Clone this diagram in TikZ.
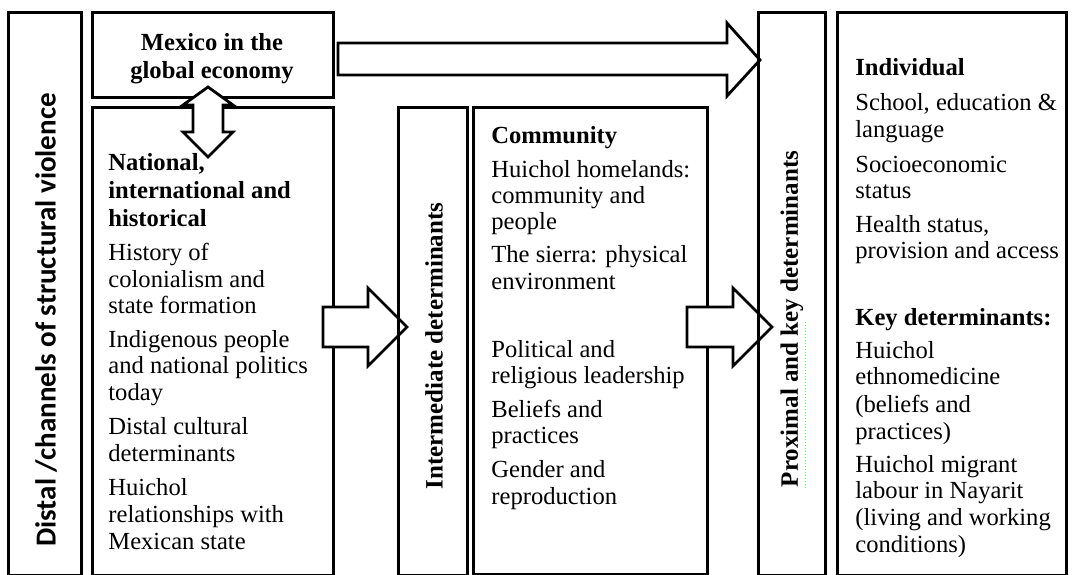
\documentclass[tikz,border=0pt]{standalone}
\usepackage{fontspec}
\setmainfont{Liberation Serif}
\newfontfamily\calibfont{Carlito}
\usetikzlibrary{fit}
\begin{document}
\begin{tikzpicture}[x=0.5pt,y=-0.5pt,
  box/.style={draw, line width=1.5pt, inner sep=0pt},
  blockarrow/.style={draw, line width=1.4pt, fill=white, line join=miter},
  txt/.style={anchor=base west, inner sep=0pt, font=\fontsize{12.3}{14}\selectfont},
  btxt/.style={anchor=base west, inner sep=0pt, font=\fontsize{12.3}{14}\selectfont\bfseries},
  ctxt/.style={anchor=base, inner sep=0pt, font=\fontsize{12.3}{14}\selectfont\bfseries},
  vtxt/.style={rotate=90, inner sep=0pt, font=\fontsize{12.5}{14}\selectfont\bfseries}]
\useasboundingbox (0,0) rectangle (1072,574);
\fill[white] (0,0) rectangle (1072,574);

% boxes (sources)
\node[box, fit={(8,12) (81,575)}] (distal) {};
\node[box, fit={(92,12) (333,97)}] (mexico) {};
\node[box, fit={(92,107) (333,575)}] (national) {};
\node[box, fit={(473,107) (707,574)}] (community) {};

% block arrows
\draw[blockarrow] (338,43) -- (727,43) -- (727,23) -- (760,60) -- (727,96) -- (727,75) -- (338,75) -- cycle;
\draw[blockarrow] (208,87) -- (233,105) -- (223,105) -- (223,132) -- (233,132) -- (208,157)
  -- (183,132) -- (193,132) -- (193,105) -- (183,105) -- cycle;
\draw[blockarrow] (323,307) -- (368,307) -- (368,288) -- (407,327) -- (368,366) -- (368,347) -- (323,347) -- cycle;
\draw[blockarrow] (687,307) -- (733,307) -- (733,288) -- (772,327) -- (733,366) -- (733,347) -- (687,347) -- cycle;

% boxes (targets)
\node[box, fit={(398,107) (467,575)}] (intermediate) {};
\node[box, fit={(758,12) (825,575)}] (proximal) {};
\node[box, fit={(837,12) (1066,575)}] (individual) {};

% vertical labels
\node[vtxt, font=\fontsize{14.5}{16}\selectfont\calibfont\bfseries] (distallbl) at (46,320) {Distal /channels of structural violence};
\node[vtxt] (interlbl) at (434,346) {Intermediate determinants};
\draw[green!70!white, densely dotted, line width=0.5pt] (805,322) -- (805,490);
\node[vtxt] (proxlbl) at (792,319) {Proximal and key determinants};

% Mexico box
\node[ctxt] (mex1) at (212,50) {Mexico in the};
\node[ctxt] (mex2) at (212,78) {global economy};

% National box
\foreach \y/\t [count=\i] in {170/{National,}, 198/international and, 226/historical}
  \node[btxt] (natb\i) at (108,\y) {\t};
\foreach \y/\t [count=\i] in {260/History of, 287/colonialism and, 313/state formation,
  347/Indigenous people, 373/and national politics, 400/today, 434/Distal cultural,
  461/determinants, 495/Huichol, 522/relationships with, 549/Mexican state}
  \node[txt] (nat\i) at (108,\y) {\t};

% Community box
\node[btxt] (comb1) at (491,143) {Community};
\foreach \y/\t [count=\i] in {177/Huichol homelands:, 203/community and, 229/people,
  262/The sierra: physical, 289/environment, 357/Political and, 383/religious leadership,
  417/Beliefs and, 443/practices, 477/Gender and, 504/reproduction}
  \node[txt] (com\i) at (491,\y) {\t};

% Individual box
\node[btxt] (indb1) at (855,75) {Individual};
\node[btxt] (indb2) at (855,325) {Key determinants:};
\foreach \y/\t [count=\i] in {110/{School, education \&}, 137/language, 172/Socioeconomic,
  198/status, 232/{Health status,}, 258/provision and access, 358/Huichol,
  384/ethnomedicine, 412/(beliefs and, 439/practices), 472/Huichol migrant,
  498/labour in Nayarit, 525/(living and working, 552/conditions)}
  \node[txt] (ind\i) at (855,\y) {\t};
\end{tikzpicture}
\end{document}
